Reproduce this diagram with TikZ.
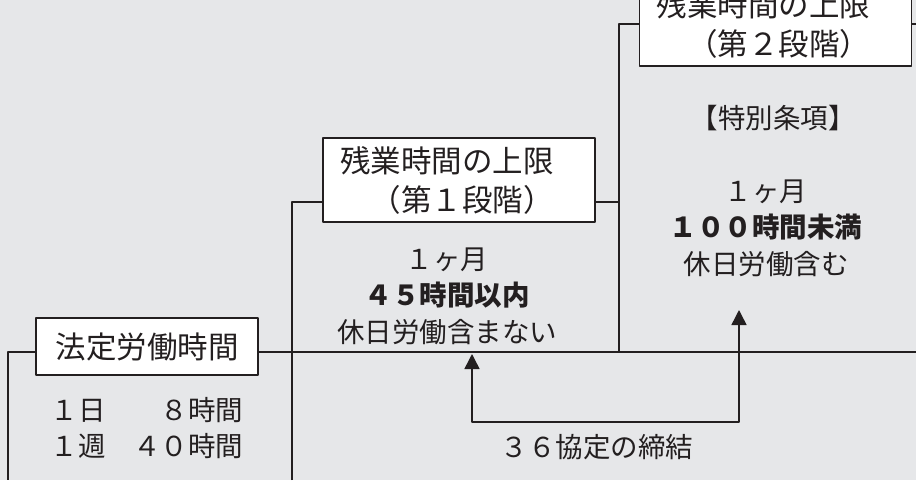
\documentclass[tikz,border=0pt]{standalone}
\usepackage{fontspec}
\setmainfont{Noto Sans CJK JP}
\usetikzlibrary{arrows.meta}
\definecolor{bggray}{HTML}{E6E7E9}
\definecolor{ink}{HTML}{231F20}
\begin{document}
\begin{tikzpicture}[x=1pt,y=-1pt,line join=round,>={Triangle[length=15pt,width=15pt]},line width=1.8pt]
		\tikzset{stagebox/.style={draw=ink,fill=white,line width=1.6pt,text=ink,inner xsep=17pt,text width=238pt,minimum height=84pt,align=left,font=\fontsize{30.5}{39}\selectfont},
			hoteibox/.style={draw=ink,fill=white,line width=1.6pt,text=ink,minimum width=222pt,minimum height=57pt,font=\fontsize{30.5}{39}\selectfont},
			bodytext/.style={text=ink,align=center,font=\fontsize{27.5}{36.5}\selectfont}}
		\useasboundingbox (0,0) rectangle (916,480);
		\clip (0,0) rectangle (916,480);
		\fill[bggray] (0,0) rectangle (916,480);
		% boxes
		\node[hoteibox] (hotei) at (147,346.5) {法定労働時間};
		\node[stagebox] (dan1) at (459,180) {残業時間の上限\\　（第１段階）};
		\node[stagebox] (dan2) at (775.5,24) {残業時間の上限\\　（第２段階）};
		% steps
		\coordinate (foot0) at (8,480);
		\coordinate (foot1) at (292,480);
		\coordinate (rim0) at (916,352);
		\coordinate (rim2) at (916,24);
		\coordinate (mid1l) at (292,202);
		\coordinate (mid1r) at (619,202);
		\coordinate (step1) at (619,352);
		\draw[ink] (hotei.west |- rim0) -| (foot0);
		\draw[ink] (hotei.east |- rim0) -- (rim0);
		\draw[ink] (foot1) |- (dan1.west |- mid1l);
		\draw[ink] (dan1.east |- mid1r) -- (mid1r);
		\draw[ink] (dan2.west) -| (step1);
		\draw[ink] (dan2.east) -- (rim2);
		% texts
		\node[bodytext,align=left] (hoteibody) at (147,428) {１日　　８時間\\１週　４０時間};
		\node[bodytext] (dan1body) at (447,296) {１ヶ月\\{\bfseries ４５時間以内}\\休日労働含まない};
		\node[bodytext] (tokubetsu) at (773,118) {【特別条項】};
		\node[bodytext] (dan2body) at (766,228) {１ヶ月\\{\bfseries １００時間未満}\\休日労働含む};
		% 36 agreement
		\coordinate (tip1) at (472,354);
		\coordinate (tip2) at (739,310);
		\coordinate (base) at (739,422);
		\draw[ink,<->,line width=1.5pt] (tip1) |- (base) -- (tip2);
		\node[bodytext] (kyotei) at (597,447) {３６協定の締結};
\end{tikzpicture}
\end{document}
